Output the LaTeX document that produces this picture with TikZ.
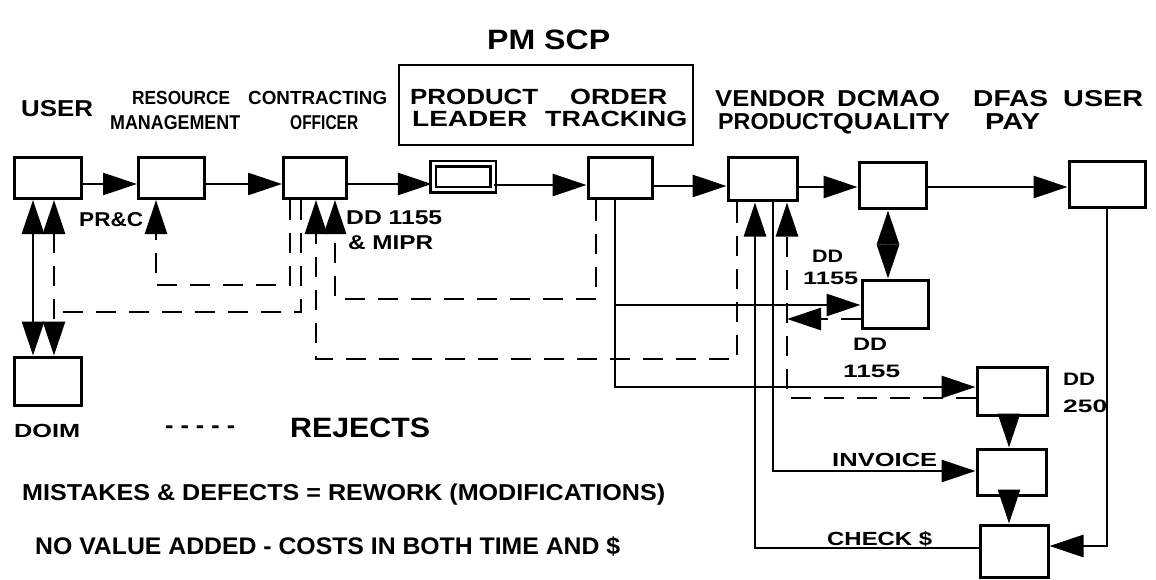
\documentclass[tikz,border=0pt]{standalone}
\usepackage{fontspec}
\setmainfont{Liberation Sans}
\usepackage{graphicx}
\usetikzlibrary{arrows.meta}
\newcommand{\wtext}[3]{{\fontsize{#1}{#1}\selectfont\bfseries\resizebox{#2pt}{\height}{#3}}}
\begin{document}
\begin{tikzpicture}[x=1pt,y=-1pt,
  box/.style={draw, line width=3pt, inner sep=0pt},
  dbox/.style={draw, double, double distance=3pt, line width=2.4pt, inner sep=0pt},
  ln/.style={line width=2.8pt},
  rej/.style={line width=2.8pt, dash pattern=on 20pt off 13pt},
  hd/.style={-{Triangle[length=34pt,width=22pt]}},
  hh/.style={{Triangle[length=34pt,width=22pt]}-{Triangle[length=34pt,width=22pt]}},
  txt/.style={inner sep=0pt, anchor=base west}]
\fill[white] (0,0) rectangle (1156,580);
\useasboundingbox (0,0) rectangle (1156,580);

% boxes
\node[box, minimum width=67pt, minimum height=41pt] (u1) at (48,178) {};
\node[box, minimum width=66pt, minimum height=41pt] (rm) at (171.5,178) {};
\node[box, minimum width=63pt, minimum height=41pt] (co) at (315,178) {};
\node[dbox, minimum width=60pt, minimum height=26pt] (pl) at (463,177) {};
\node[box, minimum width=64pt, minimum height=41pt] (ot) at (620,178.5) {};
\node[box, minimum width=69pt, minimum height=43pt] (ve) at (762.5,179.5) {};
\node[box, minimum width=67pt, minimum height=46pt] (dc) at (892.5,186) {};
\node[box, minimum width=76pt, minimum height=46pt] (u2) at (1107,185) {};
\node[box, minimum width=67pt, minimum height=48pt] (doim) at (48,381) {};
\node[box, minimum width=66pt, minimum height=48pt] (q2) at (895,304) {};
\node[box, minimum width=70pt, minimum height=48pt] (d250) at (1012,391) {};
\node[box, minimum width=69pt, minimum height=46pt] (inv) at (1011.5,472) {};
\node[box, minimum width=68pt, minimum height=52pt] (chk) at (1014,551) {};
\node[draw, line width=2.5pt, inner sep=0pt, minimum width=294pt, minimum height=80pt] (pmbox) at (546,105) {};

% header texts
\node[txt] (tpm) at (487,50) {\wtext{28}{123}{PM SCP}};
\node[txt] (tuser1) at (21,117) {\wtext{23}{72}{USER}};
\node[txt] (tres) at (132,105) {\wtext{19}{98}{RESOURCE}};
\node[txt] (tman) at (110,130) {\wtext{20}{130}{MANAGEMENT}};
\node[txt] (tcon) at (248,105) {\wtext{19}{139}{CONTRACTING}};
\node[txt] (toff) at (290,130) {\wtext{20}{68}{OFFICER}};
\node[txt] (tprod) at (410,105) {\wtext{22}{128}{PRODUCT}};
\node[txt] (tord) at (570,105) {\wtext{22}{97}{ORDER}};
\node[txt] (tlead) at (412,127) {\wtext{22}{115}{LEADER}};
\node[txt] (ttrack) at (545,127) {\wtext{22}{142}{TRACKING}};
\node[txt] (tvend) at (715,107) {\wtext{23}{110}{VENDOR}};
\node[txt] (tdcm) at (837,107) {\wtext{23}{103}{DCMAO}};
\node[txt] (tprod2) at (718,130) {\wtext{23}{115}{PRODUCT}};
\node[txt] (tqual) at (833,130) {\wtext{23}{117}{QUALITY}};
\node[txt] (tdfas) at (973,107) {\wtext{23}{75}{DFAS}};
\node[txt] (tuser2) at (1063,107) {\wtext{23}{80}{USER}};
\node[txt] (tpay) at (985,130) {\wtext{23}{55}{PAY}};

% connector labels
\node[txt] (tprc) at (79,226) {\wtext{20}{64}{PR\&C}};
\node[txt] (tdd1) at (346,225) {\wtext{20}{96}{DD 1155}};
\node[txt] (tmipr) at (348,249) {\wtext{20}{85}{\& MIPR}};
\node[txt] (tdd2) at (812,262) {\wtext{18}{31}{DD}};
\node[txt] (tdd2b) at (803,284) {\wtext{18}{55}{1155}};
\node[txt] (tdd3) at (853,350) {\wtext{18}{34}{DD}};
\node[txt] (tdd3b) at (843,377) {\wtext{18}{57}{1155}};
\node[txt] (tdd4) at (1063,385) {\wtext{18}{32}{DD}};
\node[txt] (tdd4b) at (1063,412) {\wtext{18}{44}{250}};
\node[txt] (tinv) at (832,466) {\wtext{19}{105}{INVOICE}};
\node[txt] (tchk) at (827,545) {\wtext{19}{105}{CHECK \$}};
\node[txt] (tdoim) at (14,437) {\wtext{19}{66}{DOIM}};
\node[txt] (tdash) at (165,433) {\wtext{24}{70}{- - - - -}};
\node[txt] (trej) at (290,437) {\wtext{28}{140}{REJECTS}};
\node[txt] (tmis) at (22,500) {\wtext{23}{643}{MISTAKES \& DEFECTS = REWORK (MODIFICATIONS)}};
\node[txt] (tnov) at (35,554) {\wtext{24}{585}{NO VALUE ADDED - COSTS IN BOTH TIME AND \$}};

% main flow
\draw[ln,hd] (u1.east |- 0,184) -- (rm.west |- 0,184);
\draw[ln,hd] (rm.east |- 0,184) -- (co.west |- 0,184);
\draw[ln,hd] (co.east |- 0,184) -- (pl.west |- 0,184);
\draw[ln,hd] (pl.east |- 0,185) -- (ot.west |- 0,185);
\draw[ln,hd] (ot.east |- 0,186) -- (ve.west |- 0,186);
\draw[ln,hd] (ve.east |- 0,187) -- (dc.west |- 0,187);
\draw[ln,hd] (dc.east |- 0,187) -- (u2.west |- 0,187);

% user / doim
\draw[ln,hh] (u1.south -| 33,0) -- (doim.north -| 33,0);
\draw[rej,hh] (u1.south -| 54,0) -- (doim.north -| 54,0);
\coordinate (j1) at (54,312);
\draw[rej] (co.south -| 301,0) |- (j1);
\draw[rej,hd] (co.south -| 290,0) |- (156,285) -- (rm.south -| 156,0);

% rejects back to contracting officer
\draw[rej,hd] (ot.south -| 596,0) |- (335,299) -- (co.south -| 335,0);
\draw[rej,hd] (ve.south -| 737,0) |- (316,359) -- (co.south -| 316,0);

% order tracking lines
\draw[ln,hd] (ot.south -| 615,0) |- (d250.west |- 0,387);
\coordinate (j2) at (615,305);
\draw[ln,hd] (j2) -- (q2.west |- j2);

% vendor lines
\draw[ln,hd] (chk.west |- 0,548) -| (ve.south -| 755,0);
\draw[ln,hd] (ve.south -| 773,0) |- (inv.west |- 0,471);
\draw[rej,hd] (d250.west |- 0,398) -| (ve.south -| 787,0);
\coordinate (j3) at (787,319);
\draw[rej,hd] (q2.west |- j3) -- (j3);

% quality
\draw[ln,hh] (dc.south -| 888,0) -- (q2.north -| 888,0);

% payment chain
\draw[ln,hd] (u2.south) |- (chk.east |- 0,546);
\draw[ln,hd] (d250.south -| 1009,0) -- (inv.north -| 1009,0);
\draw[ln,hd] (inv.south -| 1009,0) -- (chk.north -| 1009,0);
\end{tikzpicture}
\end{document}
